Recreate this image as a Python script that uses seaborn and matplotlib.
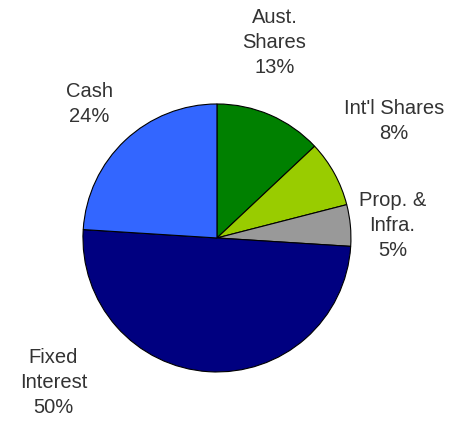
import matplotlib
matplotlib.use("Agg")
import matplotlib.pyplot as plt
import seaborn as sns

# --- Data ---
labels = ["Aust.\nShares", "Int'l Shares", "Prop. &\nInfra.", "Fixed\nInterest", "Cash"]
shares = [13, 8, 5, 50, 24]
colours = ["#008000", "#99cc00", "#999999", "#000080", "#3366ff"]

# label anchor points (data units, pie radius = 1)
label_x = [0.43, 1.32, 1.31, -1.22, -0.95]
label_y = [1.46, 0.87, 0.09, -1.075, 1.0]

sns.set_style("white")
plt.rcParams["font.family"] = ["Liberation Sans", "DejaVu Sans"]

fig = plt.figure(figsize=(4.54, 4.21), dpi=100)
ax = fig.add_axes([0, 0, 1, 1])

ax.pie(shares, colors=sns.color_palette(colours), startangle=90, counterclock=False,
       radius=1.0, wedgeprops=dict(edgecolor="black", linewidth=0.8))

for lab, val, x, y in zip(labels, shares, label_x, label_y):
    ax.text(x, y, f"{lab}\n{val}%", ha="center", va="center",
            fontsize=14.5, color="#333333", linespacing=1.4)

ax.set_xlim(-1.619, 1.769)
ax.set_ylim(-1.366, 1.776)
ax.set_aspect("equal")
ax.axis("off")

fig.savefig("out.png", dpi=100)
